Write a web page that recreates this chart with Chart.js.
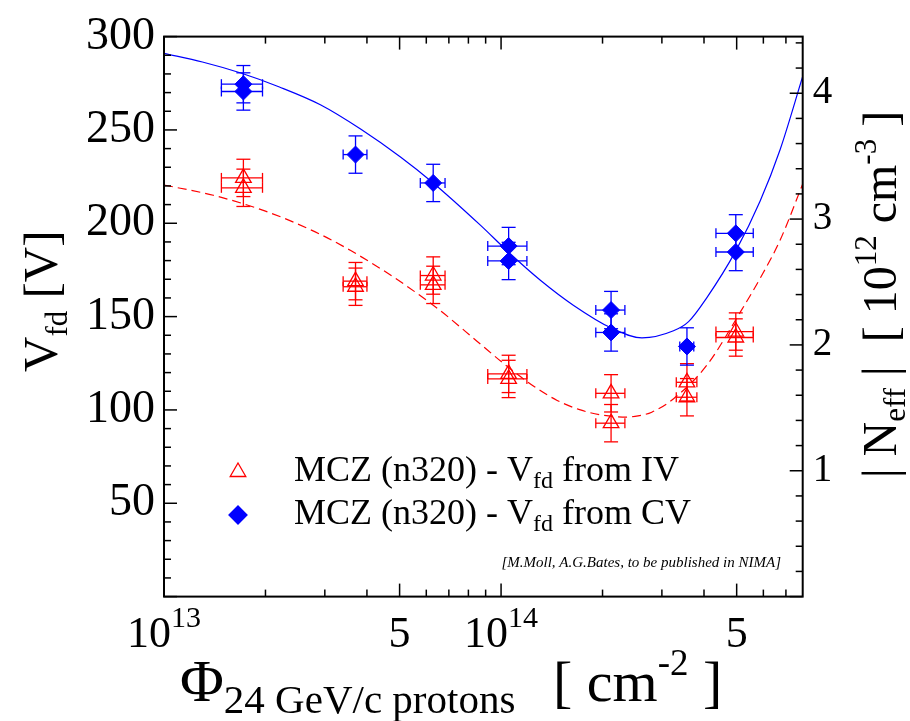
<!DOCTYPE html>
<html>
<head>
<meta charset="utf-8">
<script src="https://cdn.jsdelivr.net/npm/chart.js@4.4.1/dist/chart.umd.min.js"></script>
<style>
html, body { margin: 0; padding: 0; background: #fff; }
</style>
</head>
<body>
<canvas id="chart" width="910" height="721"></canvas>
<script>
(function() {
	"use strict";

	var SERIF = '"Liberation Serif", "Times New Roman", serif';

	// V_fd from IV (red, open triangles)
	var ivFluence = [1.72e13, 1.72e13, 3.70e13, 3.70e13, 6.29e13, 6.29e13, 1.053e14, 1.053e14, 2.12e14, 2.12e14, 3.56e14, 3.56e14, 4.97e14, 4.97e14];
	var ivVfd = [224.3, 219.0, 169, 166, 172, 167, 119.3, 116.6, 108.9, 92.9, 114.8, 106.8, 142.0, 138.8];
	var ivFluenceErr = [2.4e12, 2.4e12, 3.0e12, 3.0e12, 5.3e12, 5.3e12, 1.4e13, 1.4e13, 2.1e13, 2.1e13, 2.5e13, 2.5e13, 6.3e13, 6.3e13];
	var ivVfdErr = [10, 10, 10, 10, 10, 10, 10, 10, 10, 10, 10, 10, 10, 10];

	// V_fd from CV (blue, filled diamonds)
	var cvFluence = [1.72e13, 1.72e13, 3.70e13, 6.29e13, 1.053e14, 1.053e14, 2.12e14, 2.12e14, 3.56e14, 4.97e14, 4.97e14];
	var cvVfd = [274.5, 270.6, 236.8, 221.6, 187.8, 179.8, 153.5, 141.5, 134.0, 194.6, 184.6];
	var cvFluenceErr = [2.4e12, 2.4e12, 3.0e12, 5.3e12, 1.4e13, 1.4e13, 2.1e13, 2.1e13, 1.7e13, 6.3e13, 6.3e13];
	var cvVfdErr = [10, 10, 10, 10, 10, 10, 10, 10, 10, 10, 10];

	// fit curves
	var cvFitFluence = [1e13, 1.3e13, 1.69e13, 2.2e13, 2.91e13, 3.83e13, 5.03e13, 6.29e13, 8.68e13, 1.053e14, 1.308e14, 1.642e14, 2.118e14, 2.618e14, 3.248e14, 3.6e14, 4.08e14, 4.97e14, 5.87e14, 6.73e14, 7.85e14];
	var cvFitVfd = [291, 286.4, 280.5, 273, 263.5, 250.5, 235.5, 221.6, 199, 184.5, 169.5, 156, 144, 138.6, 142.4, 147.3, 160.2, 185.2, 211.9, 239.5, 278.6];
	var ivFitFluence = [1e13, 1.4e13, 2.0e13, 2.8e13, 3.57e13, 4.86e13, 6.61e13, 8.5e13, 1.04e14, 1.25e14, 1.467e14, 1.7e14, 1.97e14, 2.36e14, 2.55e14, 2.8e14, 3.25e14, 4.08e14, 5.13e14, 6.0e14, 6.73e14, 7.85e14];
	var ivFitVfd = [220.5, 215, 206.5, 195.5, 185.5, 170.5, 153.1, 136.7, 123.5, 112.7, 105.1, 100.3, 97.4, 96.2, 96.8, 98.8, 106, 124, 152.5, 173.6, 191, 221];

	// axes
	var xMin = 1e13, xMax = 7.85e14;
	var vMin = 0, vMax = 300;
	var neffMax = 4.45;
	var xLabelValues = [1e13, 5e13, 1e14, 5e14];
	var xLabelBase = ["10", "5", "10", "5"];
	var xLabelExp = ["13", "", "14", ""];
	var neffLabels = [1, 2, 3, 4];

	var legendLabels = [["MCZ (n320) - V", "fd", " from IV"], ["MCZ (n320) - V", "fd", " from CV"]];
	var citation = "[M.Moll, A.G.Bates, to be published in NIMA]";

	function points(xs, ys) {
		var out = [];
		for (var i = 0; i < xs.length; i++) {
			out.push({ x: xs[i], y: ys[i] });
		}
		return out;
	}

	function font(size, italic) {
		return (italic ? "italic " : "") + size + "px " + SERIF;
	}

	// runs: [text, size, dy]
	function drawRuns(ctx, runs, x, y) {
		for (var i = 0; i < runs.length; i++) {
			ctx.font = font(runs[i][1], runs[i][3]);
			ctx.fillText(runs[i][0], x, y + runs[i][2]);
			x += ctx.measureText(runs[i][0]).width;
		}
		return x;
	}

	function line(ctx, x1, y1, x2, y2) {
		ctx.beginPath();
		ctx.moveTo(x1, y1);
		ctx.lineTo(x2, y2);
		ctx.stroke();
	}

	var errorBars = {
		id: "errorBars",
		beforeDatasetsDraw: function(chart) {
			var ctx = chart.ctx, xs = chart.scales.x, ys = chart.scales.y;
			ctx.save();
			chart.data.datasets.forEach(function(ds) {
				if (!ds.errY) return;
				ctx.strokeStyle = ds.borderColor;
				ctx.lineWidth = 1.3;
				ds.data.forEach(function(p, j) {
					var px = xs.getPixelForValue(p.x), py = ys.getPixelForValue(p.y);
					var y1 = ys.getPixelForValue(p.y + ds.errY[j]);
					var y2 = ys.getPixelForValue(p.y - ds.errY[j]);
					var x1 = xs.getPixelForValue(p.x - ds.errX[j]);
					var x2 = xs.getPixelForValue(p.x + ds.errX[j]);
					line(ctx, px, y1, px, y2);
					line(ctx, px - 7, y1, px + 7, y1);
					line(ctx, px - 7, y2, px + 7, y2);
					line(ctx, x1, py, x2, py);
					line(ctx, x1, py - 5, x1, py + 5);
					line(ctx, x2, py - 5, x2, py + 5);
				});
			});
			ctx.restore();
		}
	};

	var frame = {
		id: "frame",
		afterDatasetsDraw: function(chart) {
			var ctx = chart.ctx, a = chart.chartArea;
			var xs = chart.scales.x, ys = chart.scales.y, yr = chart.scales.yNeff;
			var i, d, v, px, len;
			ctx.save();
			ctx.strokeStyle = "#000";
			ctx.lineWidth = 1.5;

			// x ticks, top and bottom, pointing in
			for (d = 1e13; d < 1e15; d *= 10) {
				for (i = 1; i <= 9; i++) {
					v = i * d;
					if (v < xMin || v > xMax) continue;
					px = xs.getPixelForValue(v);
					len = (i === 1 || i === 5) ? 13 : 7;
					line(ctx, px, a.bottom, px, a.bottom - len);
					line(ctx, px, a.top, px, a.top + len);
				}
			}
			// left ticks
			for (v = vMin; v <= vMax; v += 10) {
				px = ys.getPixelForValue(v);
				len = (v % 50 === 0) ? 13 : 7;
				line(ctx, a.left, px, a.left + len, px);
			}
			// right ticks
			for (i = 0; i * 0.2 <= neffMax; i++) {
				px = yr.getPixelForValue(i * 0.2);
				len = (i % 5 === 0) ? 13 : 7;
				line(ctx, a.right, px, a.right - len, px);
			}
			ctx.lineWidth = 2;
			ctx.strokeRect(a.left, a.top, a.right - a.left, a.bottom - a.top);

			ctx.fillStyle = "#000";
			ctx.textBaseline = "alphabetic";

			// x tick labels
			for (i = 0; i < xLabelValues.length; i++) {
				px = xs.getPixelForValue(xLabelValues[i]);
				ctx.font = font(44);
				var w = ctx.measureText(xLabelBase[i]).width;
				ctx.font = font(30);
				var we = xLabelExp[i] ? ctx.measureText(xLabelExp[i]).width : 0;
				drawRuns(ctx, [[xLabelBase[i], 44, 0], [xLabelExp[i], 30, -20]], px - (w + we) / 2, 647);
			}

			// x title
			drawRuns(ctx, [["\u03A6", 60, 0], ["24 GeV/c protons", 41, 12]], 180, 701);
			drawRuns(ctx, [["[ cm", 58, 0], ["-2", 37, -26], [" ]", 58, 0]], 553, 701);

			// left title
			ctx.save();
			ctx.translate(57, 372);
			ctx.rotate(-Math.PI / 2);
			drawRuns(ctx, [["V", 49, 0], ["fd", 31, 10], [" [V]", 49, 0]], 0, 0);
			ctx.restore();

			// right title
			ctx.save();
			ctx.translate(896, 478);
			ctx.rotate(-Math.PI / 2);
			drawRuns(ctx, [["| N", 48, 0], ["eff", 31, 9], [" |  [ 10", 48, 0], ["12", 31, -20], [" cm", 48, 0], ["-3", 31, -20], [" ]", 48, 0]], 0, 0);
			ctx.restore();

			// legend text
			var rows = [472, 515];
			for (i = 0; i < 2; i++) {
				drawRuns(ctx, [[legendLabels[i][0], 36, 0], [legendLabels[i][1], 24, 7], [legendLabels[i][2], 36, 0]], 294, rows[i] + 9);
			}

			// citation
			ctx.font = font(15, true);
			ctx.textAlign = "right";
			ctx.fillText(citation, 781, 567);
			ctx.restore();
		}
	};

	var legendMarkers = {
		id: "legendMarkers",
		afterDraw: function(chart) {
			var ctx = chart.ctx;
			var ds = chart.data.datasets;
			var rows = [472, 515];
			ctx.save();
			for (var i = 0; i < 2; i++) {
				ctx.strokeStyle = ds[i].borderColor;
				ctx.fillStyle = ds[i].pointBackgroundColor;
				ctx.lineWidth = 1.3;
				Chart.helpers.drawPoint(ctx, { pointStyle: ds[i].pointStyle, radius: 9, rotation: 0, borderWidth: 1.3 }, 238, rows[i]);
			}
			ctx.restore();
		}
	};

	var ctx = document.getElementById("chart").getContext("2d");

	new Chart(ctx, {
		type: "scatter",
		data: {
			datasets: [{
				label: "MCZ (n320) - Vfd from IV",
				data: points(ivFluence, ivVfd),
				errX: ivFluenceErr,
				errY: ivVfdErr,
				pointStyle: "triangle",
				pointRadius: 9,
				pointBorderWidth: 1.3,
				borderColor: "#ff0000",
				pointBackgroundColor: "rgba(255,255,255,0)",
				backgroundColor: "rgba(255,255,255,0)",
				order: 1
			}, {
				label: "MCZ (n320) - Vfd from CV",
				data: points(cvFluence, cvVfd),
				errX: cvFluenceErr,
				errY: cvVfdErr,
				pointStyle: "rectRot",
				pointRadius: 8.5,
				pointBorderWidth: 1,
				borderColor: "#0000ff",
				pointBackgroundColor: "#0000ff",
				backgroundColor: "#0000ff",
				order: 0
			}, {
				label: "fit CV",
				data: points(cvFitFluence, cvFitVfd),
				showLine: true,
				pointRadius: 0,
				borderColor: "#0000ff",
				borderWidth: 1.2,
				cubicInterpolationMode: "monotone",
				order: 2
			}, {
				label: "fit IV",
				data: points(ivFitFluence, ivFitVfd),
				showLine: true,
				pointRadius: 0,
				borderColor: "#ff0000",
				borderWidth: 1.2,
				borderDash: [9, 5],
				cubicInterpolationMode: "monotone",
				order: 3
			}]
		},
		options: {
			responsive: false,
			animation: false,
			devicePixelRatio: 1,
			layout: { padding: { top: 35, bottom: 124.4, left: 0, right: 0 } },
			plugins: {
				legend: { display: false },
				tooltip: { enabled: false }
			},
			scales: {
				x: {
					type: "logarithmic",
					min: xMin,
					max: xMax,
					grid: { display: false, drawTicks: false },
					border: { display: false },
					ticks: { display: false },
					afterFit: function(scale) { scale.height = 0; }
				},
				y: {
					position: "left",
					min: vMin,
					max: vMax,
					grid: { display: false, drawTicks: false },
					border: { display: false },
					ticks: {
						stepSize: 50,
						padding: 9,
						color: "#000",
						font: { family: SERIF, size: 46 },
						callback: function(v) { return v === 0 ? "" : v; }
					},
					afterFit: function(scale) { scale.width = 164; }
				},
				yNeff: {
					position: "right",
					min: 0,
					max: neffMax,
					grid: { display: false, drawTicks: false },
					border: { display: false },
					ticks: {
						padding: 10,
						color: "#000",
						font: { family: SERIF, size: 39 }
					},
					afterBuildTicks: function(scale) {
						scale.ticks = neffLabels.map(function(v) { return { value: v }; });
					},
					afterFit: function(scale) { scale.width = 107.3; }
				}
			}
		},
		plugins: [errorBars, frame, legendMarkers]
	});
})();
</script>
</body>
</html>
